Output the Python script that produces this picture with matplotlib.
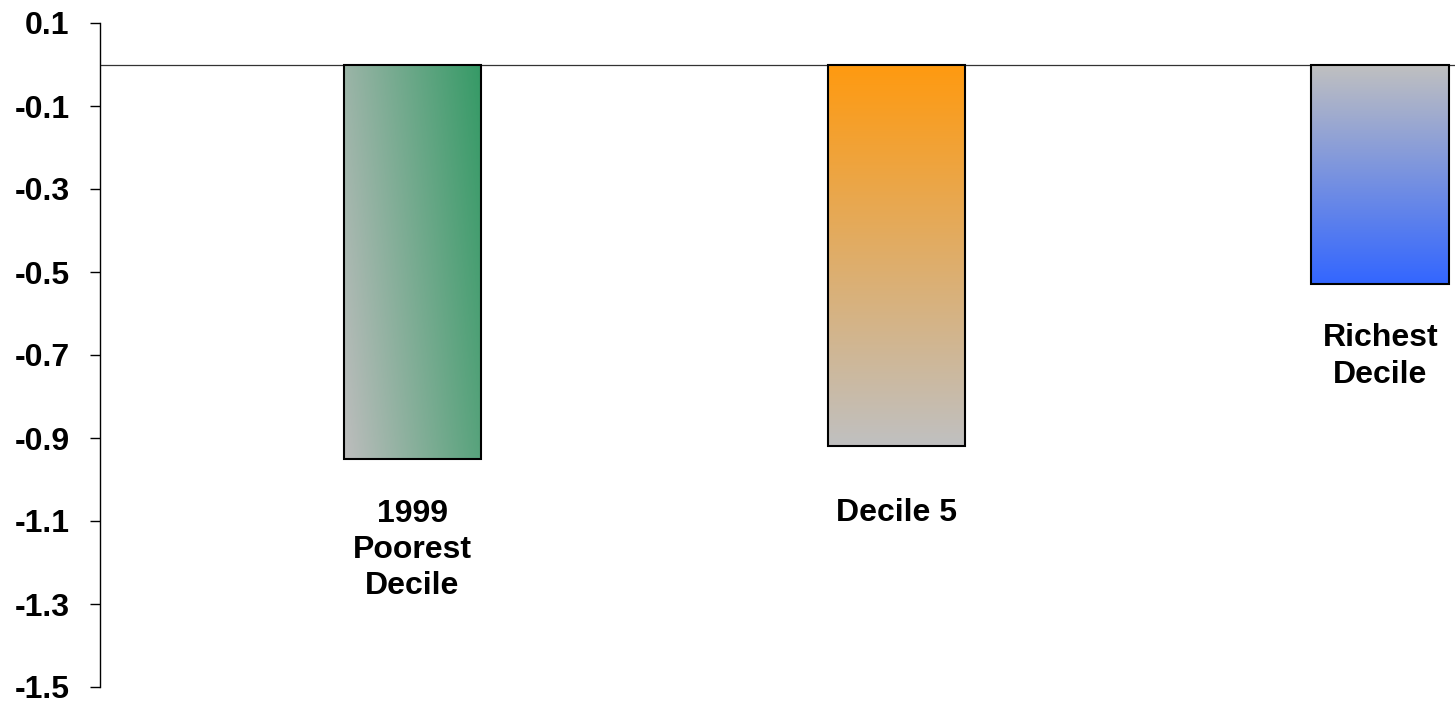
import numpy as np
import matplotlib.pyplot as plt
from matplotlib.colors import LinearSegmentedColormap

categories = ["1999\nPoorest\nDecile", "Decile 5", "Richest\nDecile"]
values = [-0.95, -0.92, -0.53]
y_ticks = [0.1, -0.1, -0.3, -0.5, -0.7, -0.9, -1.1, -1.3, -1.5]

plt.rcParams['font.family'] = ['Liberation Sans', 'DejaVu Sans']
plt.rcParams['font.weight'] = 'bold'

fig = plt.figure(figsize=(14.55, 7.03), dpi=100)
ax = fig.add_axes([100 / 1455, 16 / 703, 1355 / 1455, 664 / 703])

x = np.arange(len(values))
bars = ax.bar(x, values, width=0.285, edgecolor='black', linewidth=1.5,
              facecolor='none', zorder=3)

# gradient fills, clipped to the bar rectangles
n = 200
u, v = np.meshgrid(np.linspace(0, 1, n), np.linspace(0, 1, n))  # v: 0 top, 1 bottom
fills = [
    (0.75 * u + 0.25 * (1 - v), ['#bdbdbd', '#359a66']),
    (v, ['#ff9a10', '#c0c0c0']),
    (v, ['#c0c0c0', '#3366ff']),
]
for bar, (grad, cols) in zip(bars, fills):
    cmap = LinearSegmentedColormap.from_list('g', cols)
    x0, y0 = bar.get_x(), bar.get_y()
    w, h = bar.get_width(), bar.get_height()
    im = ax.imshow(grad, cmap=cmap, vmin=0, vmax=1, aspect='auto',
                   extent=[x0, x0 + w, y0 + h, y0], origin='upper', zorder=2,
                   interpolation='bilinear')
    im.set_clip_path(bar)

ax.set_xlim(-0.6457, 2.154)
ax.set_ylim(-1.5, 0.1)

ax.axhline(0, color='#333333', linewidth=0.9, zorder=1)

# labels under each bar (gap below bar end, in pixels)
gaps = [40, 52, 39]
for xi, val, lab, g in zip(x, values, categories, gaps):
    ax.annotate(lab, (xi, val), xytext=(0, -g), textcoords='offset pixels',
                ha='center', va='top', fontsize=23, fontweight='bold',
                linespacing=1.27)

for s in ['top', 'right', 'bottom']:
    ax.spines[s].set_visible(False)
ax.spines['left'].set_linewidth(1.0)
ax.set_xticks([])
ax.set_yticks(y_ticks)
ax.set_yticklabels(['{:.1f}'.format(t) for t in y_ticks])
ax.tick_params(axis='y', direction='out', length=7, width=1, pad=15,
               labelsize=23)

plt.savefig('out.png', dpi=100)
